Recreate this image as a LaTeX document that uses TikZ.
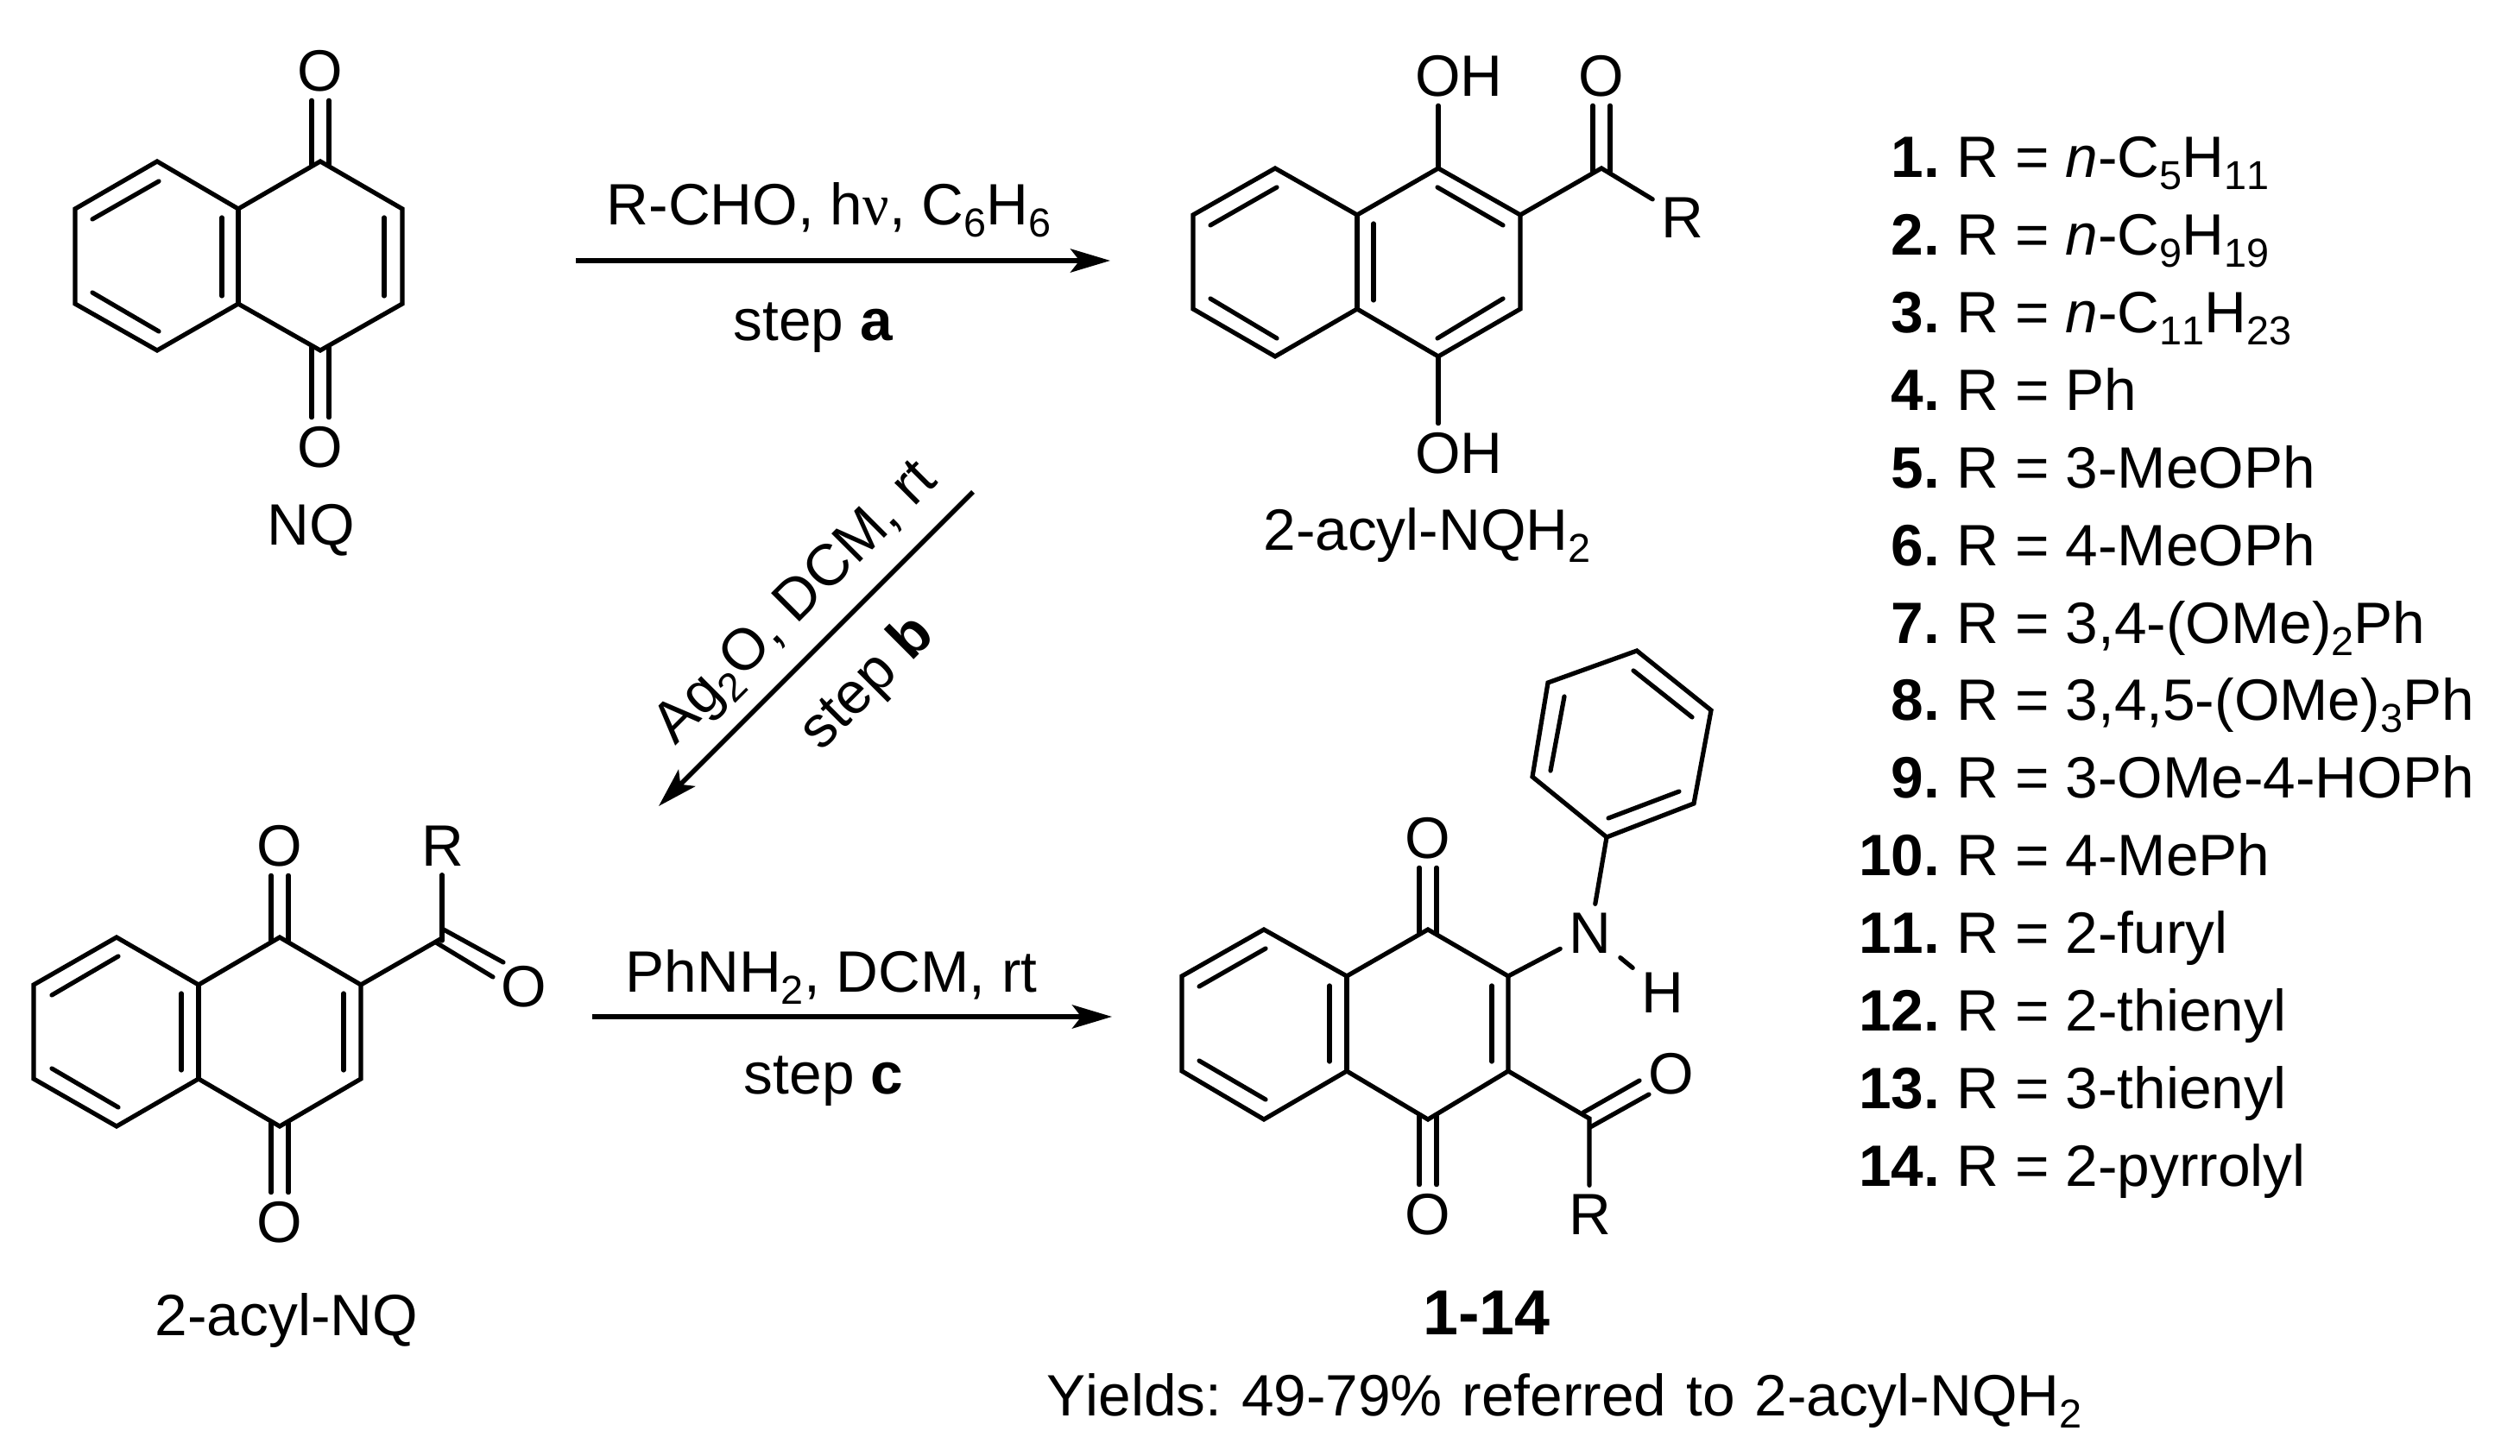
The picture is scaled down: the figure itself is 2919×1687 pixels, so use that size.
\documentclass[tikz,border=0pt]{standalone}
\usepackage{fontspec}
\setmainfont{Liberation Sans}[Kerning=Off]
\newfontfamily\nufont{Liberation Serif}
\usetikzlibrary{arrows.meta}

\newcommand{\lowidx}[1]{\raisebox{-3.5pt}{\fontsize{11.7}{12}\selectfont #1}}
% outline of the two fused rings, atoms numbered 1..10
\newcommand{\fusedrings}[1]{
  \draw[bond] (#11) -- (#12) -- (#13) -- (#17) -- (#18) -- (#19) -- (#110)
    -- (#14) -- (#15) -- (#16) -- cycle;
  \draw[bond] (#13) -- (#14);
}

\begin{document}
\frenchspacing
\begin{tikzpicture}[x=0.25pt, y=-0.25pt,
  every node/.style = {inner sep=0pt, font=\fontsize{16.9}{18}\selectfont},
  bond/.style = {line width=1.3pt, line join=miter, line cap=round},
  reaction/.style = {line width=1.4pt,
    -{Stealth[length=11.5pt, width=6.8pt, inset=2.6pt]}},
  atom/.style = {outer sep=2.6pt},
  caption/.style = {anchor=base}]
  \useasboundingbox (0,0) rectangle (2919,1687);

  % NQ
  \foreach \n/\p in {1/{87,242}, 2/{182,187}, 3/{276,242}, 4/{276,352}, 5/{182,406},
    6/{87,352}, 7/{371,187}, 8/{466,242}, 9/{466,352}, 10/{371,406}}
    \coordinate (nq\n) at (\p);
  \fusedrings{nq}
  \draw[bond] (257,252) -- (257,343);
  \draw[bond] (445,252) -- (445,343);
  \draw[bond] (107,254) -- (184,210);
  \draw[bond] (107,339) -- (184,384);
  \node[atom] (nqOa) at (371,82) {O};
  \node[atom] (nqOb) at (371,518) {O};
  \foreach \s in {-2.5pt,2.5pt} {
    \draw[bond] ([xshift=\s,yshift=-1pt]nq7) -- ([xshift=\s]nqOa.south);
    \draw[bond] ([xshift=\s,yshift=1pt]nq10) -- ([xshift=\s]nqOb.north);
  }
  \node[caption] (nqname) at (360,632) {NQ};

  % 2-acyl-NQH2
  \foreach \n/\p in {1/{1382,249}, 2/{1477,195}, 3/{1572,249}, 4/{1572,358}, 5/{1477,413},
    6/{1382,358}, 7/{1666,195}, 8/{1761,249}, 9/{1761,358}, 10/{1666,413}, c/{1855,195}}
    \coordinate (ah\n) at (\p);
  \fusedrings{ah}
  \draw[bond] (1402,261) -- (1479,217);
  \draw[bond] (1402,346) -- (1479,392);
  \draw[bond] (1591,259) -- (1591,348);
  \draw[bond] (1665,217) -- (1741,261);
  \draw[bond] (1665,392) -- (1741,346);
  \node[atom] (ahOHa) at (1690,88) {OH};
  \node[atom] (ahOHb) at (1690,525) {OH};
  \node[atom] (ahO) at (1855,88) {O};
  \node[atom] (ahR) at (1949,252) {R};
  \draw[bond] (ah7) -- (ah7 |- ahOHa.south);
  \draw[bond] (ah10) -- (ah10 |- ahOHb.north);
  \draw[bond] (ah8) -- (ahc) -- (ahR);
  \foreach \s in {-2.5pt,2.5pt}
    \draw[bond] ([xshift=\s,yshift=-1pt]ahc) -- ([xshift=\s]ahO.south);
  \node[caption] (ahname) at (1653,638) {2-acyl-NQH\lowidx{2}};

  % 2-acyl-NQ
  \foreach \n/\p in {1/{39,1141}, 2/{135,1086}, 3/{230,1141}, 4/{230,1250}, 5/{135,1305},
    6/{39,1250}, 7/{324,1086}, 8/{418,1141}, 9/{418,1250}, 10/{324,1305}, c/{512,1087}}
    \coordinate (an\n) at (\p);
  \fusedrings{an}
  \draw[bond] (60,1153) -- (137,1108);
  \draw[bond] (60,1238) -- (137,1283);
  \draw[bond] (210,1151) -- (210,1240);
  \draw[bond] (398,1151) -- (398,1240);
  \node[atom] (anOa) at (324,980) {O};
  \node[atom] (anOb) at (324,1416) {O};
  \node[atom] (anR) at (513,980) {R};
  \node[atom] (anO) at (607,1143) {O};
  \foreach \s in {-2.5pt,2.5pt} {
    \draw[bond] ([xshift=\s,yshift=-1pt]an7) -- ([xshift=\s]anOa.south);
    \draw[bond] ([xshift=\s,yshift=1pt]an10) -- ([xshift=\s]anOb.north);
  }
  \draw[bond] (an8) -- (anc);
  \draw[bond] (anc |- anR.south) -- (512,1090);
  \draw[bond] (512,1076) -- (583,1115);
  \draw[bond] (505,1092) -- (571,1132);
  \node[caption] (anname) at (332,1547) {2-acyl-NQ};

  % 1-14
  \foreach \n/\p in {1/{1369,1131}, 2/{1464,1077}, 3/{1560,1131}, 4/{1560,1241}, 5/{1464,1297},
    6/{1369,1241}, 7/{1654,1077}, 8/{1747,1131}, 9/{1747,1241}, 10/{1654,1297}, c/{1841,1296},
    a/{1861,970}, b/{1962,931}, d/{1982,823}, e/{1896,754}, f/{1793,791}, g/{1775,900}}
    \coordinate (pr\n) at (\p);
  \fusedrings{pr}
  \draw[bond] (pra) -- (prb) -- (prd) -- (pre) -- (prf) -- (prg) -- cycle;
  \draw[bond] (1389,1143) -- (1466,1099);
  \draw[bond] (1389,1229) -- (1466,1274);
  \draw[bond] (1540,1142) -- (1540,1230);
  \draw[bond] (1728,1142) -- (1728,1230);
  \draw[bond] (1863,948) -- (1945,917);
  \draw[bond] (1960,831) -- (1892,777);
  \draw[bond] (1812,807) -- (1796,893);
  \node[atom] (prOa) at (1654,971) {O};
  \node[atom] (prOb) at (1654,1407) {O};
  \node[atom] (prN) at (1842,1081) {N};
  \node[atom] (prH) at (1926,1150) {H};
  \node[atom] (prO) at (1936,1244) {O};
  \node[atom] (prR) at (1842,1407) {R};
  \foreach \s in {-2.5pt,2.5pt} {
    \draw[bond] ([xshift=\s,yshift=-1pt]pr7) -- ([xshift=\s]prOa.south);
    \draw[bond] ([xshift=\s,yshift=1pt]pr10) -- ([xshift=\s]prOb.north);
  }
  \draw[bond] (pr8) -- (prN);
  \draw[bond] (pra) -- (prN);
  \draw[bond] (prN) -- (prH);
  \draw[bond] (pr9) -- (prc) -- (prc |- prR.north);
  \draw[bond] (1834,1289) -- (1899,1252);
  \draw[bond] (1842,1306) -- (1910,1268);
  \node[caption, font=\fontsize{18.4}{20}\selectfont\bfseries] (prname) at (1722,1546) {1-14};
  \node[caption] (yields) at (1812,1640) {\spaceskip=5.7pt Yields: 49-79\% referred to 2-acyl-NQH\lowidx{2}};

  % steps
  \coordinate (aStart) at (667,302);
  \coordinate (aEnd) at (1286,302);
  \coordinate (bStart) at (1127,570);
  \coordinate (bEnd) at (763,934);
  \coordinate (cStart) at (686,1178);
  \coordinate (cEnd) at (1288,1178);
  \draw[reaction] (aStart) -- (aEnd);
  \draw[reaction] (bStart) -- (bEnd);
  \draw[reaction] (cStart) -- (cEnd);
  \node[caption] (aTop) at (960,261) {R-CHO, h{\nufont ν}, C\lowidx{6}H\lowidx{6}};
  \node[caption] (aBot) at (942,395) {step \textbf{a}};
  \node[caption, rotate=45] (bTop) at (935,712) {Ag\lowidx{2}O, DCM, rt};
  \node[caption, rotate=45] (bBot) at (1018,805) {step \textbf{b}};
  \node[caption] (cTop) at (963,1149) {PhNH\lowidx{2}, DCM, rt};
  \node[caption] (cBot) at (954,1267) {step \textbf{c}};

  % the R list
  \foreach \i/\txt in {1/{\textit{n}-C\lowidx{5}H\lowidx{11}}, 2/{\textit{n}-C\lowidx{9}H\lowidx{19}},
    3/{\textit{n}-C\lowidx{11}H\lowidx{23}}, 4/{Ph}, 5/{3-MeOPh}, 6/{4-MeOPh},
    7/{3,4-(OMe)\lowidx{2}Ph}, 8/{3,4,5-(OMe)\lowidx{3}Ph}, 9/{3-OMe-4-HOPh}, 10/{4-MePh},
    11/{2-furyl}, 12/{2-thienyl}, 13/{3-thienyl}, 14/{2-pyrrolyl}} {
    \pgfmathsetmacro{\rowy}{206+89.85*(\i-1)}
    \node[anchor=base east] (num\i) at (2248,\rowy) {\textbf{\i.}};
    \node[anchor=base west] (rgroup\i) at (2266,\rowy) {R = \txt};
  }
\end{tikzpicture}
\end{document}
